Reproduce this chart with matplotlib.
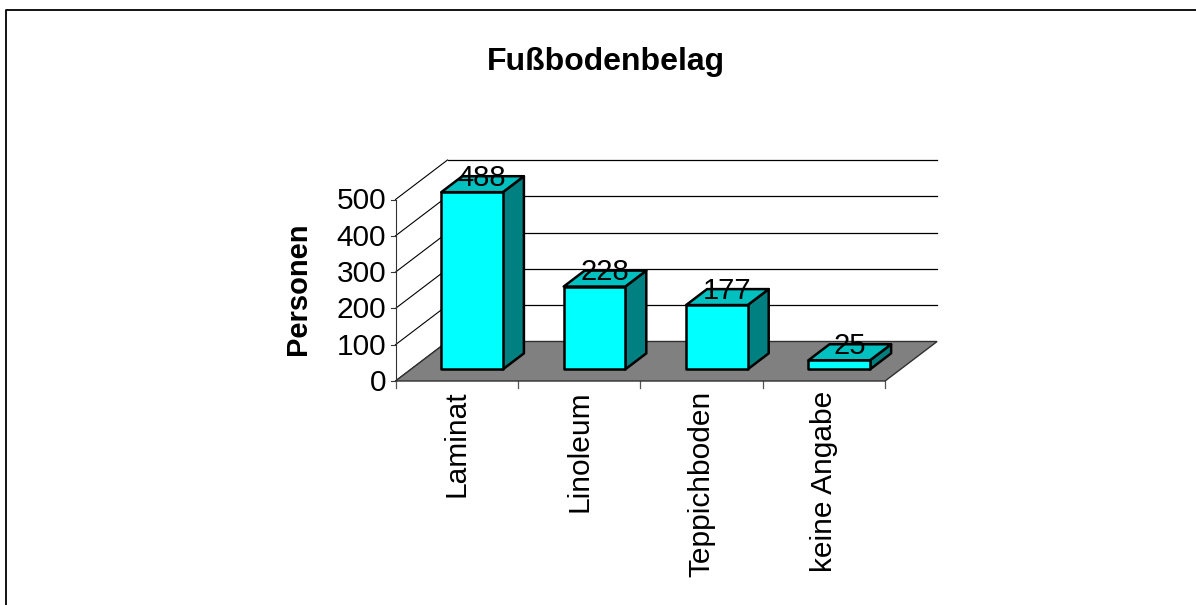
import matplotlib
matplotlib.use('Agg')
import matplotlib.pyplot as plt
from matplotlib.patches import Polygon

plt.rcParams['font.family'] = ['Liberation Sans', 'DejaVu Sans']

categories = ['Laminat', 'Linoleum', 'Teppichboden', 'keine Angabe']
values = [488, 228, 177, 25]
y_ticks = [0, 100, 200, 300, 400, 500]
title = 'Fußbodenbelag'
y_label = 'Personen'

W, H = 1196, 605
fig = plt.figure(figsize=(W / 100, H / 100), dpi=100)
ax = fig.add_axes([0, 0, 1, 1])

# chart scale in pixels, one axes over the whole figure
px_x0, px_cat = 395.5, 122.4
px_y0, px_100 = 381.0, 36.3
ax.set_xlim(-px_x0 / px_cat, (W - px_x0) / px_cat)
ax.set_ylim((px_y0 - H) / px_100 * 100, px_y0 / px_100 * 100)
ax.axis('off')

# oblique depth of the floor, in category and value units
depth_x = 52.0 / px_cat
depth_y = 39.5 / px_100 * 100


def proj(x, v, d=0.0):
    return (x + d * depth_x, v + d * depth_y)


n = len(categories)
top = y_ticks[-1]

# floor
ax.add_patch(Polygon([proj(0, 0), proj(n, 0), proj(n, 0, 1), proj(0, 0, 1)],
                     facecolor='#808080', edgecolor='#303030', lw=1.0, zorder=1))

# gridlines, side wall and value ticks
for t in y_ticks:
    if t > 0:
        ax.plot(*zip(proj(0, t, 1), proj(n, t, 1)), color='black', lw=0.9, zorder=0.5)
    ax.plot(*zip(proj(0, t), proj(0, t, 1)), color='black', lw=0.8, zorder=0.5)
    ax.plot(*zip(proj(-0.04, t), proj(0, t)), color='#333333', lw=0.8, zorder=0.5)
    ax.text(-0.075, t - 5, str(t), ha='right', va='center', fontsize=21.5, zorder=5)
ax.plot(*zip(proj(0, 0), proj(0, top)), color='#333333', lw=0.8, zorder=0.5)

# category ticks and labels
for i in range(n + 1):
    ax.plot(*zip(proj(i, 0), proj(i, -18)), color='#555555', lw=0.9, zorder=0.5)
for i, name in enumerate(categories):
    ax.text(i + 0.5, -27, name, rotation=90, ha='center', va='top', fontsize=21.5, zorder=5)

# bars
bar_w = 61.6 / px_cat
d0, d1 = 0.296, 0.70
for i, val in enumerate(values):
    x0 = i + 0.5 - bar_w / 2
    x1 = x0 + bar_w
    style = dict(edgecolor='black', lw=1.8, joinstyle='round', zorder=3)
    ax.add_patch(Polygon([proj(x1, 0, d0), proj(x1, 0, d1), proj(x1, val, d1), proj(x1, val, d0)],
                         facecolor='#008080', **style))
    ax.add_patch(Polygon([proj(x0, val, d0), proj(x1, val, d0), proj(x1, val, d1), proj(x0, val, d1)],
                         facecolor='#00c0c0', **style))
    ax.add_patch(Polygon([proj(x0, 0, d0), proj(x1, 0, d0), proj(x1, val, d0), proj(x0, val, d0)],
                         facecolor='#00ffff', **style))
    cx, cy = proj(i + 0.5, val, 0.5)
    ax.text(cx - 0.005, cy + 17, str(val), ha='center', va='center', fontsize=21, zorder=6)

ax.text(605.5 / W, 1 - 62 / H, title, transform=ax.transAxes, ha='center', va='center',
        fontsize=23, fontweight='bold')
ax.text(298 / W, 1 - 289 / H, y_label, transform=ax.transAxes, rotation=90, ha='center', va='center',
        fontsize=21, fontweight='bold')

# chart frame, only left and top are inside the image
ax.plot([6 / W, 6 / W, 1], [0, 1 - 10 / H, 1 - 10 / H],
        transform=ax.transAxes, color='black', lw=1.3, clip_on=False)

fig.savefig('out.png', dpi=100, facecolor='white')
